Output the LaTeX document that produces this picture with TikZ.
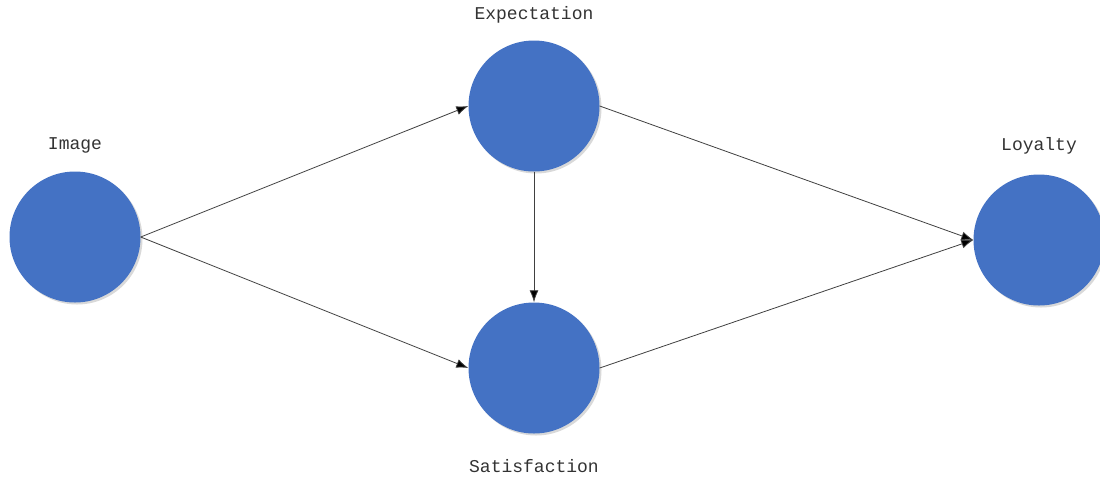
\documentclass[tikz,border=0pt]{standalone}
\usepackage{fontspec}
\setmonofont{Liberation Mono}
\usetikzlibrary{arrows.meta,shadows}
\definecolor{circblue}{HTML}{4472C4}
\definecolor{linegray}{HTML}{404040}
\tikzset{
  construct/.style={circle, fill=circblue, minimum size=131pt, inner sep=0pt,
    drop shadow={shadow xshift=2pt, shadow yshift=-2pt, opacity=0.25, fill=black!60}},
  lbl/.style={font=\ttfamily\fontsize{18}{21}\selectfont, text=black!80},
  link/.style={draw=linegray, line width=0.8pt, -{Latex[length=12pt,width=9pt,fill=black]}}
}
\begin{document}
\begin{tikzpicture}[x=1pt,y=-1pt]
\useasboundingbox (0,0) rectangle (1100,488);
\node[construct] (img) at (75,237) {};
\node[construct] (exp) at (534,106) {};
\node[construct] (sat) at (534,368) {};
\node[construct] (loy) at (1039,240) {};
\node[lbl] (limg) at (75,145) {Image};
\node[lbl] (lexp) at (534,15) {Expectation};
\node[lbl] (lsat) at (534,466) {Satisfaction};
\node[lbl] (lloy) at (1039,146) {Loyalty};
\draw[link] (img.east) -- (exp.west);
\draw[link] (img.east) -- (sat.west);
\draw[link] (exp.south) -- (sat.north);
\draw[link] (exp.east) -- (loy.west);
\draw[link] (sat.east) -- (loy.west);
\end{tikzpicture}
\end{document}
